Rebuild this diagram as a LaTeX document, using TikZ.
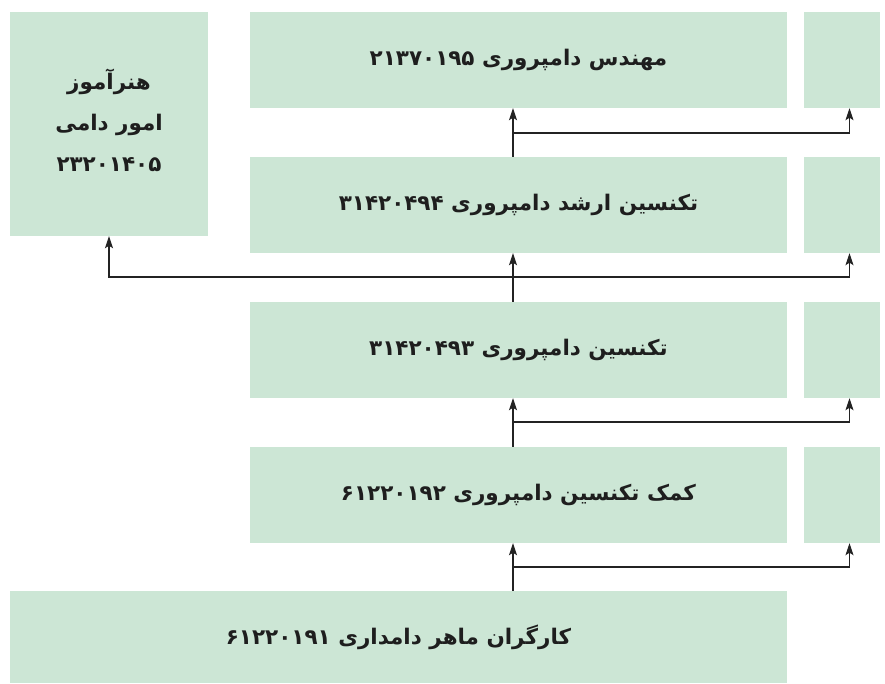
\documentclass[tikz,border=0pt]{standalone}
\usepackage{fontspec}
\usetikzlibrary{arrows.meta}
\TeXXeTstate=1
\newfontfamily\arabicfont[Script=Arabic]{DejaVu Sans}
\definecolor{boxgreen}{RGB}{204,230,213}
\definecolor{linegray}{RGB}{35,35,35}
\definecolor{textdark}{RGB}{30,30,30}
\begin{document}
\begin{tikzpicture}[x=1pt,y=-1pt,
  box/.style={fill=boxgreen, draw=none, minimum width=537pt, minimum height=96pt, inner sep=0pt,
    text=textdark, font=\arabicfont\bfseries\fontsize{21.5}{28}\selectfont},
  sidebox/.style={fill=boxgreen, draw=none, minimum width=76pt, minimum height=96pt, inner sep=0pt},
  conn/.style={draw=linegray, line width=1.1pt},
  arr/.style={conn, -{Stealth[length=12pt,width=8pt,inset=2.5pt]}}]
\useasboundingbox (0,0) rectangle (885,683);
\fill[white] (0,0) rectangle (885,683);
% main column
\node[box] (eng) at (518.5,60) {\beginR مهندس دامپروری \beginL۲۱۳۷۰۱۹۵\endL\endR};
\node[box] (sen) at (518.5,205) {\beginR تکنسین ارشد دامپروری \beginL۳۱۴۲۰۴۹۴\endL\endR};
\node[box] (tec) at (518.5,350) {\beginR تکنسین دامپروری \beginL۳۱۴۲۰۴۹۳\endL\endR};
\node[box] (ast) at (518.5,495) {\beginR کمک تکنسین دامپروری \beginL۶۱۲۲۰۱۹۲\endL\endR};
\node[box, minimum width=777pt, minimum height=92pt] (wrk) at (398.5,637) {\beginR کارگران ماهر دامداری \beginL۶۱۲۲۰۱۹۱\endL\endR};
% side boxes
\node[sidebox] (r1) at (842,60) {};
\node[sidebox] (r2) at (842,205) {};
\node[sidebox] (r3) at (842,350) {};
\node[sidebox] (r4) at (842,495) {};
% left box
\node[box, minimum width=198pt, minimum height=224pt, inner sep=0pt] (ins) at (109,124) {};
\node[font=\arabicfont\bfseries\fontsize{21.5}{28}\selectfont, text=textdark, align=center, inner sep=0pt] (inst) at (109,120)
  {\beginR هنرآموز\endR\\[13pt]\beginR امور دامی\endR\\[13pt]\beginL۲۳۲۰۱۴۰۵\endL};
% junction coordinates
\coordinate (j1) at (513,133);
\coordinate (j2) at (513,277);
\coordinate (j3) at (513,422);
\coordinate (j4) at (513,567);
\coordinate (rx) at (849.5,0);
% connectors
\draw[arr] (sen.north -| j1) -- (eng.south -| j1);
\draw[arr] (j1) -| (r1.south -| rx);
\draw[arr] (tec.north -| j2) -- (sen.south -| j2);
\draw[arr] (j2) -| (r2.south -| rx);
\draw[arr] (j2) -| (ins.south);
\draw[arr] (ast.north -| j3) -- (tec.south -| j3);
\draw[arr] (j3) -| (r3.south -| rx);
\draw[arr] (wrk.north -| j4) -- (ast.south -| j4);
\draw[arr] (j4) -| (r4.south -| rx);
\end{tikzpicture}
\end{document}
